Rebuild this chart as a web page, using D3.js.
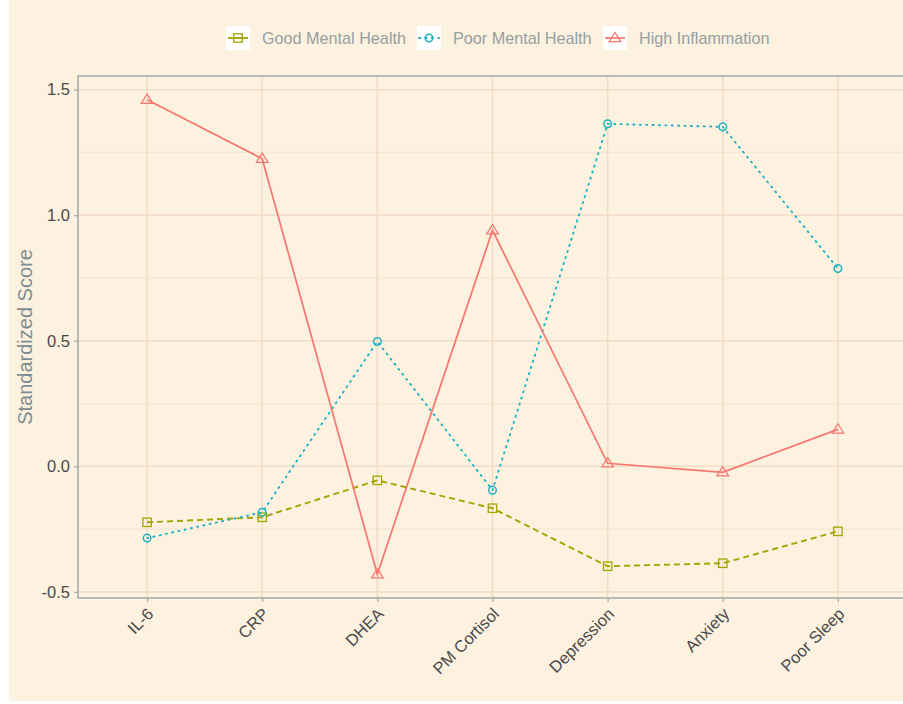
<!DOCTYPE html>
<html><head><meta charset="utf-8">
<script src="https://cdn.jsdelivr.net/npm/d3@7"></script>
<style>
html,body{margin:0;padding:0;background:#ffffff;}
svg{display:block;font-family:"Liberation Sans",Arial,Helvetica,sans-serif;}
</style></head>
<body>
<svg id="chart" width="903" height="704"></svg>
<script>
const categories = ["IL-6","CRP","DHEA","PM Cortisol","Depression","Anxiety","Poor Sleep"];
const goodMentalHealth = [-0.223,-0.203,-0.056,-0.167,-0.398,-0.386,-0.259];
const poorMentalHealth = [-0.286,-0.183,0.497,-0.095,1.364,1.352,0.788];
const highInflammation = [1.46,1.225,-0.43,0.94,0.012,-0.024,0.147];
const yTicks = [-0.5,0,0.5,1.0,1.5];
const yMinor = [-0.25,0.25,0.75,1.25];
const seriesNames = ["Good Mental Health","Poor Mental Health","High Inflammation"];

(function(){
const svg = d3.select("#chart");
const W = 903, H = 704;
const pL = 78, pR = 907, pT = 76, pB = 598;

svg.append("rect").attr("x",9).attr("y",0).attr("width",W-9).attr("height",701).attr("fill","#fdf1e0");

const x = d3.scaleLinear().domain([-0.6, categories.length-1+0.6]).range([pL,pR]);
const y = d3.scaleLinear().domain([-0.5245,1.5545]).range([pB,pT]);

const grid = svg.append("g");
grid.selectAll(".minor").data(yMinor).join("line")
  .attr("x1",pL).attr("x2",pR).attr("y1",d=>y(d)).attr("y2",d=>y(d))
  .attr("stroke","#f7e6d2").attr("stroke-width",1.2);
grid.selectAll(".major").data(yTicks).join("line")
  .attr("x1",pL).attr("x2",pR).attr("y1",d=>y(d)).attr("y2",d=>y(d))
  .attr("stroke","#f3dcc6").attr("stroke-width",1.6);
grid.selectAll(".vmaj").data(categories).join("line")
  .attr("x1",(d,i)=>x(i)).attr("x2",(d,i)=>x(i)).attr("y1",pT).attr("y2",pB)
  .attr("stroke","#f3dcc6").attr("stroke-width",1.6);

svg.append("path").attr("d",`M${pR},${pT}H${pL}V${pB}H${pR}`)
  .attr("fill","none").attr("stroke","#a3aba8").attr("stroke-width",1.6);

const fmt = d3.format(".1f");
const yAxis = d3.axisLeft(y).tickValues(yTicks).tickSize(4).tickPadding(4)
  .tickFormat(d=>fmt(d).replace("\u2212","-"));
const gy = svg.append("g").attr("transform",`translate(${pL},0)`).call(yAxis);
gy.select(".domain").remove();
gy.selectAll(".tick line").attr("stroke","#a3aba8").attr("stroke-width",1.2);
gy.selectAll(".tick text").attr("fill","#4a4a4a").style("font-size","16.5px")
  .style("font-family","'Liberation Sans',Arial,sans-serif");

const xAxis = d3.axisBottom(x).tickValues(d3.range(categories.length)).tickSize(4).tickPadding(4)
  .tickFormat(i=>categories[i]);
const gx = svg.append("g").attr("transform",`translate(0,${pB})`).call(xAxis);
gx.select(".domain").remove();
gx.selectAll(".tick line").attr("stroke","#a3aba8").attr("stroke-width",1.2);
gx.selectAll(".tick text").attr("fill","#4a4a4a").style("font-size","16.5px")
  .style("font-family","'Liberation Sans',Arial,sans-serif")
  .attr("text-anchor","end").attr("dy",null).attr("y",null)
  .attr("transform","translate(7,17) rotate(-45)");

svg.append("text").attr("transform",`translate(32,${(pT+pB)/2}) rotate(-90)`)
  .attr("text-anchor","middle").attr("fill","#7d8e92").style("font-size","20px")
  .text("Standardized Score");

const colors = ["#A3A500","#1CB3C3","#F8766D"];
const data = [goodMentalHealth, poorMentalHealth, highInflammation];
const dashes = ["6,4","1.2,5.2",null];
const widths = [1.9,1.9,1.7];

const line = d3.line().x((d,i)=>x(i)).y(d=>y(d));

function marker(g, type, cx, cy, color){
  if(type===0){
    g.append("rect").attr("x",cx-4.2).attr("y",cy-4.2).attr("width",8.4).attr("height",8.4)
      .attr("fill","none").attr("stroke",color).attr("stroke-width",1.3);
  } else if(type===1){
    g.append("circle").attr("cx",cx).attr("cy",cy).attr("r",3.8)
      .attr("fill","none").attr("stroke",color).attr("stroke-width",1.5);
  } else {
    const s=5.6;
    g.append("path").attr("d",`M${cx},${cy-s}L${cx+s*1.05},${cy+s*0.65}L${cx-s*1.05},${cy+s*0.65}Z`)
      .attr("fill","none").attr("stroke",color).attr("stroke-width",1.2);
  }
}

data.forEach((vals,k)=>{
  const g = svg.append("g");
  g.append("path").datum(vals).attr("d",line).attr("fill","none")
    .attr("stroke",colors[k]).attr("stroke-width",widths[k])
    .attr("stroke-dasharray",dashes[k]).attr("stroke-linecap",k===1?"round":"butt");
  vals.forEach((v,i)=>marker(g,k,x(i),y(v),colors[k]));
});

const lg = svg.append("g");
const legX = [226, 417, 603];
seriesNames.forEach((name,k)=>{
  const gx0 = legX[k], cy = 38;
  lg.append("rect").attr("x",gx0).attr("y",cy-12).attr("width",24).attr("height",24).attr("fill","#ffffff");
  lg.append("line").attr("x1",gx0+2).attr("x2",gx0+22).attr("y1",cy).attr("y2",cy)
    .attr("stroke",colors[k]).attr("stroke-width",widths[k])
    .attr("stroke-dasharray",k===1?"1.2,5.2":null).attr("stroke-linecap",k===1?"round":"butt");
  marker(lg,k,gx0+12,cy,colors[k]);
  lg.append("text").attr("x",gx0+36).attr("y",cy+5.5).attr("fill","#95a0a0")
    .style("font-size","16.2px").text(name);
});
})();
</script>
</body></html>
